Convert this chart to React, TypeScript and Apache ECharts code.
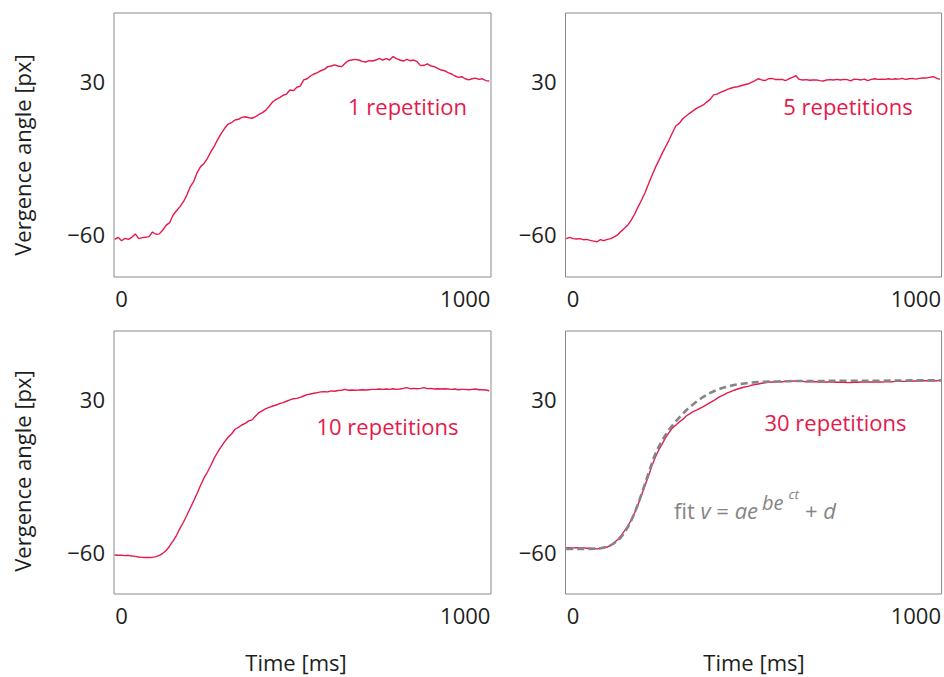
import { useEffect, useRef } from 'react';
import * as echarts from 'echarts';

// Sample times (ms) shared by the four measured traces
const TIME_MS = [
  -20, -10, 0, 10, 20, 30, 40, 50, 60, 70,
  80, 90, 100, 110, 120, 130, 140, 150, 160, 170,
  180, 190, 200, 210, 220, 230, 240, 250, 260, 270,
  280, 290, 300, 310, 320, 330, 340, 350, 360, 370,
  380, 390, 400, 410, 420, 430, 440, 450, 460, 470,
  480, 490, 500, 510, 520, 530, 540, 550, 560, 570,
  580, 590, 600, 610, 620, 630, 640, 650, 660, 670,
  680, 690, 700, 710, 720, 730, 740, 750, 760, 770,
  780, 790, 800, 810, 820, 830, 840, 850, 860, 870,
  880, 890, 900, 910, 920, 930, 940, 950, 960, 970,
  980, 990, 1000, 1010, 1020, 1030, 1040, 1050, 1060, 1070,
];

// Vergence angle [px], averaged over 1, 5, 10 and 30 repetitions
const REP_1 = [
  -62.9, -61.7, -63.7, -62.3, -62.9, -61.7, -59.7, -62.5, -61.9, -61.7,
  -61.3, -58.6, -59.9, -59.7, -57.4, -54.5, -53.1, -48.6, -46.1, -43.7,
  -40.8, -36.9, -32.0, -29.0, -23.7, -20.2, -18.3, -15.3, -11.4, -8.1,
  -4.2, -0.7, 2.3, 4.8, 5.6, 7.2, 7.6, 8.7, 9.1, 8.5,
  8.2, 9.1, 10.5, 11.5, 13.0, 15.4, 17.9, 19.3, 20.3, 21.7,
  22.4, 24.8, 24.4, 26.4, 27.1, 30.7, 31.4, 33.0, 34.2, 35.0,
  36.1, 36.9, 38.5, 38.9, 39.5, 38.9, 38.5, 40.4, 42.0, 42.4,
  42.8, 42.4, 41.6, 41.2, 42.0, 41.8, 42.4, 43.4, 42.4, 43.2,
  42.4, 44.4, 43.2, 42.4, 41.8, 42.8, 42.0, 42.4, 41.4, 39.1,
  39.3, 40.1, 38.9, 38.5, 37.5, 36.5, 36.1, 35.0, 34.2, 33.0,
  32.2, 32.6, 31.4, 30.7, 31.4, 31.8, 31.0, 31.4, 30.3, 30.1,
];

const REP_5 = [
  -62.5, -61.7, -62.5, -62.7, -62.5, -63.1, -62.9, -63.5, -63.9, -64.3,
  -63.1, -63.7, -62.9, -62.5, -61.5, -60.3, -58.2, -56.4, -54.5, -51.5,
  -48.0, -43.7, -39.8, -35.5, -30.4, -25.5, -20.8, -16.7, -12.4, -8.5,
  -4.6, -0.3, 3.8, 5.2, 7.9, 9.5, 11.1, 12.5, 14.0, 15.0,
  16.0, 17.7, 19.3, 21.9, 22.4, 23.4, 24.2, 25.2, 25.8, 26.4,
  26.7, 27.3, 27.9, 28.3, 29.3, 30.1, 31.4, 30.7, 30.3, 31.4,
  31.6, 31.0, 31.0, 31.0, 30.3, 31.4, 32.2, 33.2, 31.0, 30.7,
  30.9, 30.5, 30.7, 30.7, 30.3, 30.1, 30.7, 30.9, 30.7, 31.0,
  30.7, 31.0, 30.9, 30.1, 31.2, 31.0, 30.7, 31.2, 30.3, 31.0,
  31.4, 31.0, 31.2, 31.0, 31.4, 31.0, 31.4, 31.2, 31.6, 31.0,
  31.4, 31.6, 31.2, 31.6, 31.8, 31.8, 32.2, 32.6, 31.8, 31.0,
];

const REP_10 = [
  -62.0, -62.2, -62.2, -62.4, -62.2, -62.6, -62.8, -63.2, -63.4, -63.5,
  -63.5, -63.4, -63.0, -62.2, -61.0, -59.4, -56.7, -53.7, -50.4, -46.3,
  -42.7, -38.6, -34.3, -30.0, -25.6, -20.9, -16.6, -13.1, -9.1, -4.8,
  -1.3, 1.9, 4.8, 7.4, 9.3, 12.1, 13.2, 14.6, 15.6, 17.0,
  17.6, 19.9, 21.9, 23.1, 24.2, 25.0, 25.8, 26.4, 27.2, 27.8,
  28.6, 29.4, 30.1, 30.3, 30.9, 31.7, 32.5, 32.9, 33.3, 33.7,
  34.1, 34.3, 34.1, 34.7, 34.5, 34.9, 35.1, 35.6, 35.1, 35.2,
  35.1, 35.2, 35.4, 35.2, 35.4, 35.6, 35.6, 35.8, 35.6, 35.8,
  35.6, 36.0, 35.6, 35.8, 36.2, 36.6, 36.0, 36.2, 36.0, 36.2,
  36.6, 36.0, 36.2, 35.8, 36.0, 35.8, 36.0, 35.8, 35.6, 35.8,
  35.4, 35.6, 35.6, 35.4, 35.6, 35.8, 35.4, 35.4, 35.2, 34.8,
];

const REP_30 = [
  -57.7, -57.7, -57.8, -57.7, -57.8, -57.8, -58.0, -58.0, -58.2, -58.4,
  -58.2, -57.8, -57.3, -56.3, -54.7, -53.0, -50.6, -47.8, -44.9, -41.4,
  -37.0, -32.1, -26.6, -20.9, -15.4, -9.5, -4.4, -0.1, 3.4, 7.2,
  10.1, 12.9, 14.6, 16.4, 17.9, 19.9, 21.1, 22.5, 23.4, 24.4,
  25.4, 26.6, 27.8, 28.9, 30.3, 31.5, 32.3, 33.5, 34.3, 35.1,
  35.8, 36.4, 37.0, 37.4, 38.0, 38.4, 38.8, 39.2, 39.4, 39.8,
  39.9, 39.9, 40.1, 40.1, 40.3, 40.3, 40.5, 40.5, 40.3, 40.3,
  40.1, 40.1, 40.1, 40.1, 39.9, 39.9, 39.9, 39.9, 39.9, 39.8,
  39.8, 39.8, 39.6, 39.6, 39.8, 39.8, 39.9, 39.9, 39.9, 39.9,
  39.9, 39.9, 39.9, 40.1, 40.1, 40.1, 40.3, 40.3, 40.3, 40.3,
  40.5, 40.5, 40.5, 40.5, 40.7, 40.7, 40.7, 40.7, 40.7, 40.9,
];

// Fitted curve v = a·e^(b·e^(c·t)) + d for the 30-repetition average
const FIT_TIME_MS = [
  -20, 0, 20, 40, 60, 80, 100, 120, 140, 160,
  180, 200, 220, 240, 260, 280, 300, 320, 340, 360,
  380, 400, 420, 440, 460, 480, 500, 520, 540, 560,
  600, 650, 700, 800, 900, 1000, 1075,
];
const FIT_30 = [
  -58.4, -58.4, -58.4, -58.4, -58.3, -58.0, -57.1, -55.1, -51.5, -45.5,
  -37.0, -26.0, -14.0, -2.5, 5.5, 11.8, 16.8, 21.2, 25.0, 28.3,
  31.2, 33.5, 35.3, 36.7, 37.7, 38.5, 39.1, 39.6, 39.9, 40.1,
  40.3, 40.5, 40.5, 40.7, 40.7, 40.9, 40.9,
];

const PANEL_LABELS = ['1 repetition', '5 repetitions', '10 repetitions', '30 repetitions'];
const X_TICKS = [0, 1000];
const Y_TICKS = [-60, 30];
const X_RANGE = [-22, 1075];
const Y_RANGE = [-85, 70];

const RED = '#e5194b';
const GREY = '#858585';
const INK = '#1e1e1e';
const FONT = '"Open Sans", "Noto Sans", sans-serif';

const GRIDS = [
  { left: 114, top: 13, width: 377, height: 264 },
  { left: 565.5, top: 13, width: 376.5, height: 264 },
  { left: 114, top: 331, width: 377, height: 263 },
  { left: 565.5, top: 331, width: 376.5, height: 263 },
];

const LABEL_POS = [
  [407.5, 106],
  [848, 106],
  [387.5, 426],
  [835.5, 422],
];

function txt(x: number, y: number, text: string, extra: any = {}) {
  return {
    type: 'text',
    x,
    y,
    silent: true,
    style: {
      text,
      fill: INK,
      fontSize: 22,
      fontFamily: FONT,
      align: 'center',
      verticalAlign: 'middle',
      textAlign: 'center',
      textVerticalAlign: 'middle',
      ...extra,
    },
  };
}

export default function App() {
  const ref = useRef<HTMLDivElement>(null);

  useEffect(() => {
    if (!ref.current) return;
    const chart = echarts.init(ref.current, undefined, { renderer: 'svg' });

    const series = [REP_1, REP_5, REP_10, REP_30].map((vals, i) => ({
      type: 'line',
      xAxisIndex: i,
      yAxisIndex: i,
      data: TIME_MS.map((t, k) => [t, vals[k]]),
      showSymbol: false,
      silent: true,
      lineStyle: { color: RED, width: 1.4 },
      z: 2,
    }));

    const fitSeries = {
      type: 'line',
      xAxisIndex: 3,
      yAxisIndex: 3,
      data: FIT_TIME_MS.map((t, k) => [t, FIT_30[k]]),
      showSymbol: false,
      silent: true,
      smooth: 0.35,
      lineStyle: { color: GREY, width: 2.6, type: [7, 4] },
      z: 3,
    };

    const labelStyle = { fontSize: 22, fontFamily: FONT, color: INK };

    const italic = { fontStyle: 'italic', fontFamily: FONT, fill: GREY, color: GREY };
    const plain = { fontFamily: FONT, fill: GREY, color: GREY };

    const graphic: any[] = [
      ...PANEL_LABELS.map((s, i) => txt(LABEL_POS[i][0], LABEL_POS[i][1], s, { fill: RED })),
      txt(296, 662, 'Time [ms]'),
      txt(754, 662, 'Time [ms]'),
      { ...txt(22, 155, 'Vergence angle [px]'), rotation: Math.PI / 2 },
      { ...txt(22, 471, 'Vergence angle [px]'), rotation: Math.PI / 2 },
      // fit formula with nested superscripts
      txt(674, 509.5, '{n|fit }{i|v}{n| = }{i|ae}', {
        align: 'left',
        textAlign: 'left',
        rich: {
          n: { ...plain, fontSize: 22 },
          i: { ...italic, fontSize: 22 },
        },
      }),
      txt(762, 502, 'be', { ...italic, fontSize: 20, align: 'left', textAlign: 'left' }),
      txt(788.5, 493.5, 'ct', { ...italic, fontSize: 13.5, align: 'left', textAlign: 'left' }),
      txt(805, 509.5, '{n|+ }{i|d}', {
        align: 'left',
        textAlign: 'left',
        rich: {
          n: { ...plain, fontSize: 22 },
          i: { ...italic, fontSize: 22 },
        },
      }),
    ];

    chart.setOption({
      animation: false,
      backgroundColor: '#ffffff',
      grid: GRIDS.map((g) => ({
        ...g,
        show: true,
        borderColor: '#8a8a8a',
        borderWidth: 1,
        backgroundColor: 'transparent',
        containLabel: false,
      })),
      xAxis: GRIDS.map((_, i) => ({
        type: 'value',
        gridIndex: i,
        min: X_RANGE[0],
        max: X_RANGE[1],
        axisLine: { show: false },
        axisTick: { show: false },
        splitLine: { show: false },
        axisLabel: {
          ...labelStyle,
          margin: 10,
          customValues: X_TICKS,
          formatter: (v: number) => String(v),
        },
      })),
      yAxis: GRIDS.map((_, i) => ({
        type: 'value',
        gridIndex: i,
        min: Y_RANGE[0],
        max: Y_RANGE[1],
        axisLine: { show: false },
        axisTick: { show: false },
        splitLine: { show: false },
        axisLabel: {
          ...labelStyle,
          margin: 9,
          customValues: Y_TICKS,
          formatter: (v: number) => (v < 0 ? '\u2212' + Math.abs(v) : String(v)),
        },
      })),
      series: [...series, fitSeries],
      graphic,
    });

    return () => chart.dispose();
  }, []);

  return (
    <div
      ref={ref}
      style={{ position: 'absolute', left: 0, top: 0, width: 944, height: 677 }}
    />
  );
}
